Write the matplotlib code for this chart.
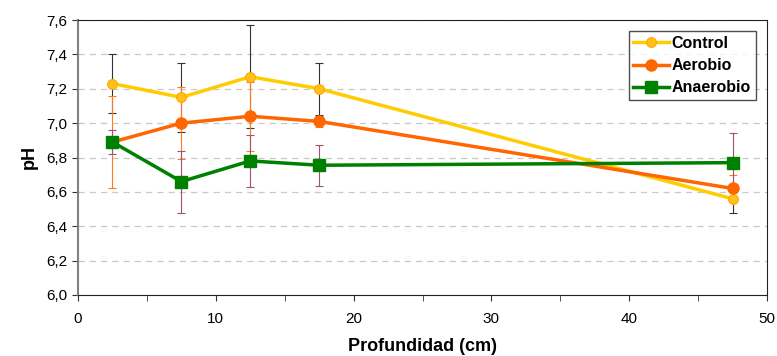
import matplotlib.pyplot as plt
from matplotlib.ticker import MultipleLocator, FuncFormatter

plt.rcParams['font.family'] = ['Liberation Sans', 'DejaVu Sans']

depth = [2.5, 7.5, 12.5, 17.5, 47.5]
control = [7.23, 7.15, 7.27, 7.20, 6.56]
control_err = [0.17, 0.20, 0.30, 0.15, 0.08]
aerobio = [6.89, 7.00, 7.04, 7.01, 6.62]
aerobio_err = [0.27, 0.21, 0.20, 0.03, 0.08]
anaerobio = [6.89, 6.66, 6.78, 6.755, 6.77]
anaerobio_err = [0.07, 0.18, 0.15, 0.12, 0.17]

fig = plt.figure(figsize=(7.77, 3.56), dpi=100)
ax = fig.add_axes([78/777, 1 - 295/356, (767 - 78)/777, (295 - 20)/356])

ax.errorbar(depth, control, yerr=control_err, fmt='none', ecolor='#333333',
            elinewidth=0.8, capsize=3, capthick=0.8, zorder=2)
ax.errorbar(depth, aerobio, yerr=aerobio_err, fmt='none', ecolor='#ff7a1a',
            elinewidth=0.8, capsize=3, capthick=0.8, zorder=2)
ax.errorbar(depth, anaerobio, yerr=anaerobio_err, fmt='none', ecolor='#a0507a',
            elinewidth=0.8, capsize=3, capthick=0.8, zorder=2)

ax.plot(depth, control, color='#ffcc00', lw=2.5, marker='o', ms=7,
        mfc='#ffc21a', mec='#ffa500', mew=0.8, label='Control', zorder=3)
ax.plot(depth, aerobio, color='#ff6600', lw=2.5, marker='o', ms=8,
        mfc='#ff6600', mec='#ff6600', label='Aerobio', zorder=3)
ax.plot(depth, anaerobio, color='#008000', lw=2.5, marker='s', ms=9,
        mfc='#008000', mec='#008000', label='Anaerobio', zorder=3)

ax.set_xlim(0, 50)
ax.set_ylim(6.0, 7.6)
ax.xaxis.set_major_locator(MultipleLocator(10))
ax.xaxis.set_minor_locator(MultipleLocator(5))
ax.yaxis.set_major_locator(MultipleLocator(0.2))
ax.yaxis.set_major_formatter(FuncFormatter(lambda v, p: f'{v:.1f}'.replace('.', ',')))
ax.tick_params(axis='both', labelsize=11, length=4, color='#333333')
ax.tick_params(axis='x', which='minor', length=4, color='#333333')
ax.tick_params(axis='x', pad=8)

ax.grid(axis='y', ls=(0, (5, 4)), color='#c8c8c8', lw=0.9, zorder=0)
for s in ['top', 'right', 'bottom']:
    ax.spines[s].set_color('#222222')
ax.spines['left'].set_color('#808080')
ax.spines['left'].set_linewidth(1.5)

ax.set_xlabel('Profundidad (cm)', fontsize=13, fontweight='bold', labelpad=9)
ax.set_ylabel('pH', fontsize=13, fontweight='bold', labelpad=6)

leg = ax.legend(loc='upper right', prop={'size': 11.5, 'weight': 'bold'},
                frameon=True, fancybox=False,
                edgecolor='#222222', handlelength=2.2, borderpad=0.3,
                labelspacing=0.45, handletextpad=0.2, borderaxespad=0.7)
leg.get_frame().set_linewidth(1.0)

fig.savefig('out.png', dpi=100)
